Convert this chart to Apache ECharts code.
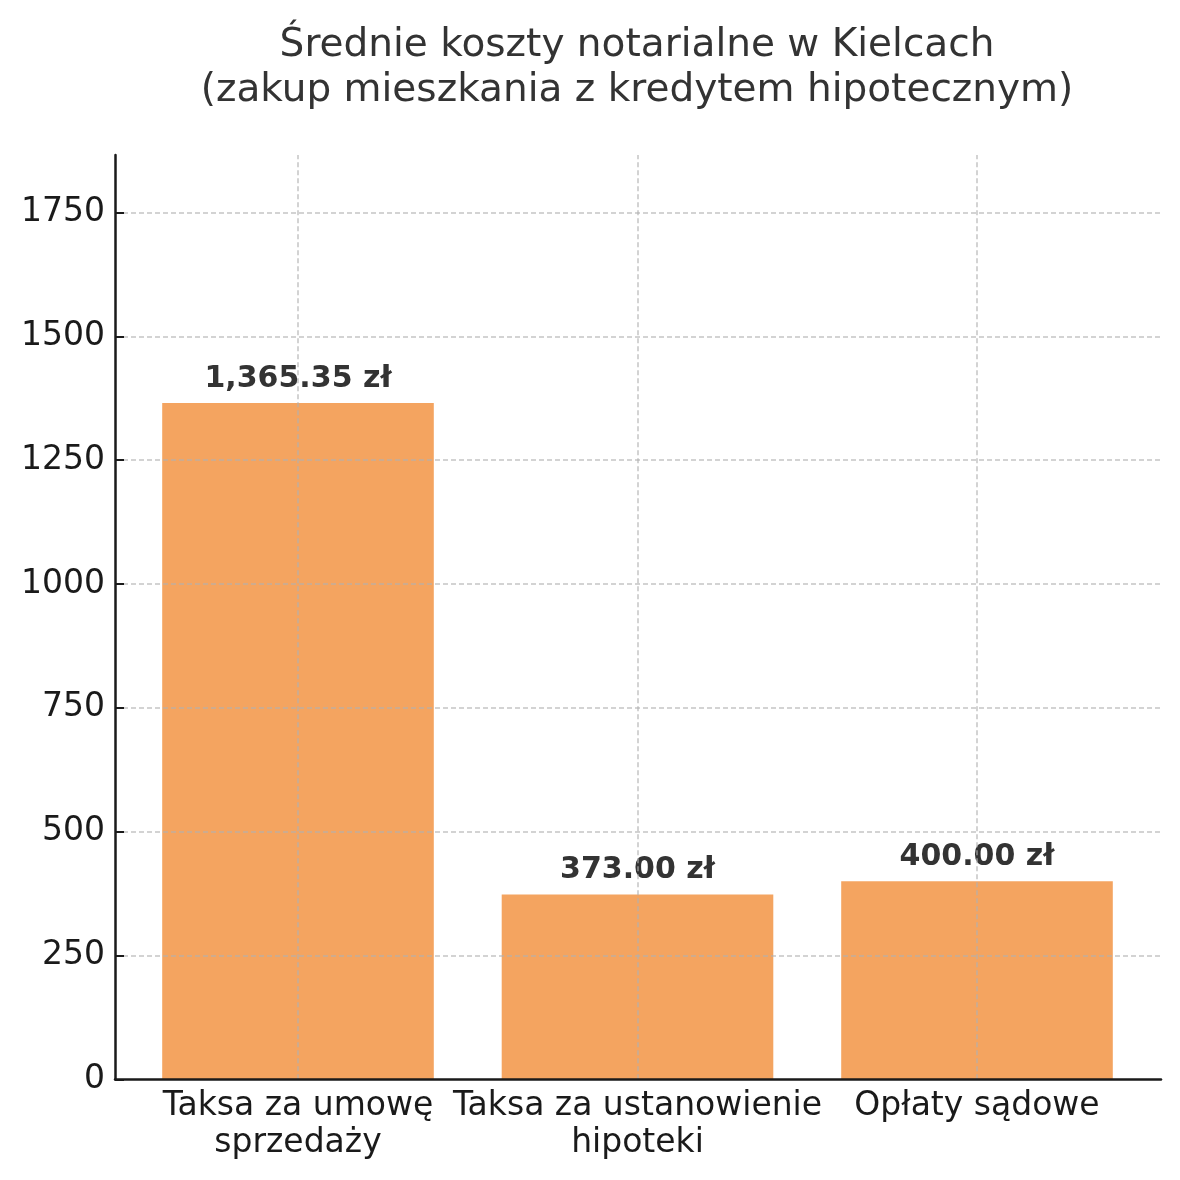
<!DOCTYPE html>
<html>
<head>
<meta charset="utf-8">
<script src="https://cdn.jsdelivr.net/npm/echarts@6/dist/echarts.min.js"></script>
<style>html,body{margin:0;padding:0;background:#fff}#c{width:1180px;height:1180px}</style>
</head>
<body>
<div id="c"></div>
<script>
const titleText = 'Średnie koszty notarialne w Kielcach\n(zakup mieszkania z kredytem hipotecznym)';
const categories = ['Taksa za umowę\nsprzedaży', 'Taksa za ustanowienie\nhipoteki', 'Opłaty sądowe'];
const values = [1365.35, 373.00, 400.00];
const yTicks = [0, 250, 500, 750, 1000, 1250, 1500, 1750];
const yMax = 1866;

const FONT = 'DejaVu Sans';
const gridLine = { type: [5, 3], color: '#b0b0b0', opacity: 0.75, width: 1.5 };

const chart = echarts.init(document.getElementById('c'), null, { renderer: 'canvas' });
chart.setOption({
  animation: false,
  backgroundColor: '#ffffff',
  textStyle: { fontFamily: FONT },
  title: {
    text: titleText,
    left: 632,
    top: 18,
    textAlign: 'center',
    textStyle: { fontFamily: FONT, fontSize: 39, fontWeight: 'normal', color: '#333333', lineHeight: 45 }
  },
  grid: [
    { left: 128.25, right: 33.25, top: 155, bottom: 100.7, outerBoundsMode: 'none' },
    { left: 115, right: 19, top: 155, bottom: 100.7, outerBoundsMode: 'none' }
  ],
  xAxis: [
    {
      type: 'category', gridIndex: 0, data: categories,
      axisLine: { show: false },
      axisTick: { show: true, inside: true, alignWithLabel: true, length: 9, lineStyle: { color: '#1a1a1a', width: 2 } },
      axisLabel: { interval: 0, fontFamily: FONT, fontSize: 33, lineHeight: 37, margin: 9, color: '#1a1a1a' },
      splitLine: { show: false }
    },
    {
      type: 'value', gridIndex: 1, min: 0, max: 1, z: 5,
      axisLine: { show: true, lineStyle: { color: '#1a1a1a', width: 2.5 } },
      axisTick: { show: false }, axisLabel: { show: false }, splitLine: { show: false }
    }
  ],
  yAxis: [
    { type: 'value', gridIndex: 0, min: 0, max: yMax, show: false, splitLine: { show: false } },
    {
      type: 'value', gridIndex: 1, min: 0, max: yMax, interval: 250, z: 5,
      axisLine: { show: true, lineStyle: { color: '#1a1a1a', width: 2.5 } },
      axisTick: { show: true, inside: true, length: 9, lineStyle: { color: '#1a1a1a', width: 2 }, customValues: yTicks },
      axisLabel: { fontFamily: FONT, fontSize: 33, margin: 10, color: '#1a1a1a', padding: [6, 0, 0, 0], customValues: yTicks, formatter: v => String(v) },
      splitLine: { show: true, showMinLine: false, lineStyle: gridLine }
    }
  ],
  series: [{
    type: 'bar',
    xAxisIndex: 0, yAxisIndex: 0,
    data: values,
    barWidth: '80%',
    itemStyle: { color: '#F4A460' },
    emphasis: { disabled: true },
    label: {
      show: true, position: 'top', distance: 9,
      fontFamily: FONT, fontSize: 30, fontWeight: 'bold', color: '#333333',
      formatter: p => p.value.toLocaleString('en-US', { minimumFractionDigits: 2, maximumFractionDigits: 2 }) + ' zł'
    },
    markLine: {
      silent: true,
      symbol: ['none', 'none'],
      label: { show: false },
      lineStyle: gridLine,
      emphasis: { disabled: true },
      data: categories.map(c => ({ xAxis: c }))
    }
  }]
});
</script>
</body>
</html>
